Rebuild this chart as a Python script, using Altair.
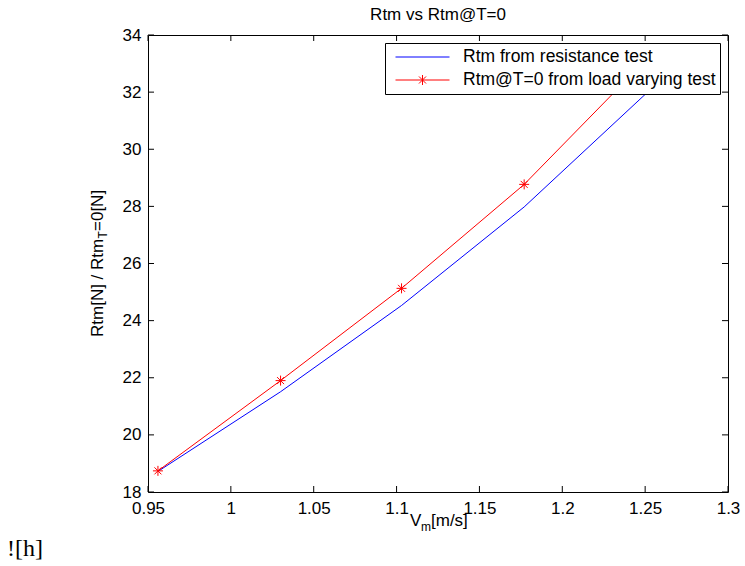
import altair as alt
import pandas as pd

# ---- data ----
SERIES = ["Rtm from resistance test", "Rtm@T=0 from load varying test"]
SPEED = [0.956, 1.030, 1.103, 1.177, 1.250]
RTM_RESIST = [18.72, 21.51, 24.53, 27.98, 31.92]
RTM_T0 = [18.74, 21.90, 25.13, 28.77, 33.10]
X_TICKS = [0.95, 1.0, 1.05, 1.1, 1.15, 1.2, 1.25, 1.3]
Y_TICKS = [18, 20, 22, 24, 26, 28, 30, 32, 34]
COLORS = ["#0000ff", "#ff0000"]
TITLE = "Rtm vs Rtm@T=0"

FONT = "Liberation Sans"
W, H = 580, 457
TICK = 6

long = pd.DataFrame({
    "series": [SERIES[0]] * len(SPEED) + [SERIES[1]] * len(SPEED),
    "speed": SPEED + SPEED,
    "rtm": RTM_RESIST + RTM_T0,
})
red = pd.DataFrame({"speed": SPEED, "rtm": RTM_T0})
xt = pd.DataFrame({"v": X_TICKS})
yt = pd.DataFrame({"v": Y_TICKS})
one = pd.DataFrame({"k": [0]})

xs = alt.Scale(domain=[0.95, 1.3], nice=False, zero=False)
ys = alt.Scale(domain=[18, 34], nice=False, zero=False)

AX_X = alt.Axis(values=X_TICKS, format="~g", title=None, ticks=False, domain=False,
                grid=False, labelPadding=8, labelFontSize=17, labelFont=FONT,
                labelColor="black", labelFlush=False, labelOverlap=False)
AX_Y = alt.Axis(values=Y_TICKS, format="~g", title=None, ticks=False, domain=False,
                grid=False, labelPadding=7, labelFontSize=17, labelFont=FONT,
                labelColor="black", labelFlush=False, labelOverlap=False)


def xenc(f):
    return alt.X(f"{f}:Q", scale=xs, axis=AX_X)


def yenc(f):
    return alt.Y(f"{f}:Q", scale=ys, axis=AX_Y)


STAR = "M-1,0H1M0,-1V1M-0.7,-0.7L0.7,0.7M-0.7,0.7L0.7,-0.7"
LEG_PATHS = [
    "M-1,0H1",
    "M-1,0H1M0,-0.185V0.185M-0.13,-0.13L0.13,0.13M-0.13,0.13L0.13,-0.13",
]
LEG = alt.Legend(title=None, orient="top-right", offset=8, fillColor="white",
                 strokeColor="black", padding=4, symbolSize=2916, clipHeight=20,
                 rowPadding=3, symbolStrokeWidth=1, symbolOpacity=1,
                 symbolOffset=6, labelOffset=13, labelFontSize=17.5,
                 labelFont=FONT, labelColor="black", labelLimit=600,
                 cornerRadius=0, zindex=5)
color_scale = alt.Scale(domain=SERIES, range=COLORS)

legend_layer = alt.Chart(long).mark_point(opacity=0, filled=False, clip=True).encode(
    x=xenc("speed"), y=yenc("rtm"),
    color=alt.Color("series:N", scale=color_scale, legend=LEG),
    shape=alt.Shape("series:N", scale=alt.Scale(domain=SERIES, range=LEG_PATHS), legend=LEG),
)

lines = alt.Chart(long).mark_line(strokeWidth=1, clip=True).encode(
    x=xenc("speed"), y=yenc("rtm"),
    color=alt.Color("series:N", scale=color_scale, legend=None),
)

stars = alt.Chart(red).mark_point(shape=STAR, size=100, strokeWidth=1, color="#ff0000",
                                  filled=False, opacity=1, clip=True).encode(
    x=xenc("speed"), y=yenc("rtm"))

tick_kw = dict(color="black", strokeWidth=1)
xt_bottom = alt.Chart(xt).mark_rule(**tick_kw).encode(
    x=xenc("v"), y=alt.value(H), y2=alt.value(H - TICK))
xt_top = alt.Chart(xt).mark_rule(**tick_kw).encode(
    x=xenc("v"), y=alt.value(0), y2=alt.value(TICK))
yt_left = alt.Chart(yt).mark_rule(**tick_kw).encode(
    y=yenc("v"), x=alt.value(0), x2=alt.value(TICK))
yt_right = alt.Chart(yt).mark_rule(**tick_kw).encode(
    y=yenc("v"), x=alt.value(W), x2=alt.value(W - TICK))


def txt(s, x, y, size=17, angle=0, font=FONT, align="left"):
    return alt.Chart(one).mark_text(text=s, font=font, fontSize=size, angle=angle,
                                    align=align, baseline="alphabetic",
                                    color="black").encode(x=alt.value(x), y=alt.value(y))


title = txt(TITLE, W / 2, -15, align="center")
# x-axis title  V_m[m/s]
xlab = [
    txt("V", 262, 491),
    txt("m", 273, 496, size=12),
    txt("[m/s]", 283, 491),
]
# y-axis title  Rtm[N] / Rtm_T=0[N]  (rotated)
ylab = [
    txt("Rtm[N] / Rtm", -45, 302, angle=270),
    txt("T", -41, 203.5, size=12, angle=270),
    txt("=0[N]", -45, 196, angle=270),
]
extra = txt("![h]", -141, 521, size=24, font="Liberation Serif")

chart = alt.layer(
    legend_layer, lines, stars, xt_bottom, xt_top, yt_left, yt_right,
    title, *xlab, *ylab, extra,
).properties(
    width=W, height=H,
    autosize=alt.AutoSizeParams(type="none"),
    padding={"left": 148, "top": 35, "right": 17, "bottom": 74},
    background="white",
).configure_view(stroke="black", strokeWidth=1)

chart.save("out.html", embed_options={"renderer": "svg", "actions": False})
